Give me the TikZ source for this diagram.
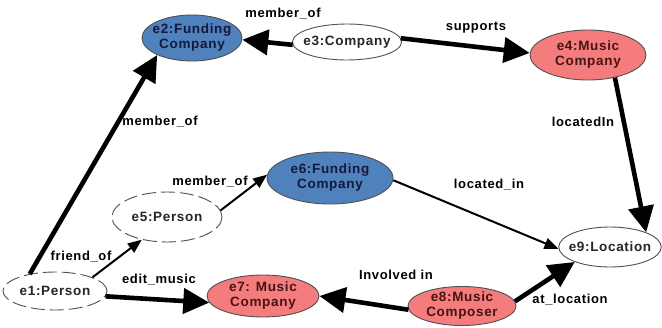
\documentclass[tikz,border=0pt]{standalone}
\usepackage{fontspec}
\setmainfont{Liberation Sans}[LetterSpace=5]
\usetikzlibrary{shapes.geometric,arrows.meta}
\definecolor{fundblue}{RGB}{79,129,189}
\definecolor{musicpink}{RGB}{244,124,124}
\definecolor{edgegray}{RGB}{80,80,80}
\tikzset{
  ent/.style={ellipse, draw=edgegray, line width=0.9pt, inner xsep=-5pt, inner ysep=0pt, align=center,
    font=\fontsize{13.5}{15}\selectfont\bfseries, text=black!85},
  fund/.style={ent, fill=fundblue, text={rgb,255:red,20;green,25;blue,60}},
  music/.style={ent, fill=musicpink, text={rgb,255:red,70;green,20;blue,20}},
  plain/.style={ent, fill=white},
  dashent/.style={ent, fill=white, dash pattern=on 14pt off 5pt},
  thickedge/.style={line width=4.6pt, -{Triangle[length=26pt,width=25pt]}},
  thinedge/.style={line width=2pt, -{Triangle[length=14pt,width=11pt]}},
  lbl/.style={font=\fontsize{13}{15}\selectfont\bfseries, inner sep=0pt}
}
\begin{document}
\begin{tikzpicture}[x=1pt,y=-1pt]
\useasboundingbox (0,0) rectangle (662,327);
% nodes
\node[fund, minimum width=100pt, minimum height=46pt] (e2) at (192,38) {e2:Funding\\Company};
\node[plain, minimum width=108pt, minimum height=36pt] (e3) at (347,42) {e3:Company};
\node[music, minimum width=116pt, minimum height=50pt] (e4) at (588,55) {e4:Music\\Company};
\node[dashent, minimum width=110pt, minimum height=50pt] (e5) at (167,217) {e5:Person};
\node[fund, minimum width=126pt, minimum height=52pt] (e6) at (330,178) {e6:Funding\\Company};
\node[music, minimum width=112pt, minimum height=42pt] (e7) at (263,296) {e7: Music\\Company};
\node[music, minimum width=108pt, minimum height=38pt] (e8) at (462,306) {e8:Music\\Composer};
\node[plain, minimum width=102pt, minimum height=40pt] (e9) at (610,247) {e9:Location};
\node[dashent, minimum width=104pt, minimum height=38pt] (e1) at (55,291) {e1:Person};
% edges
\draw[thickedge] (e1.146) -- (e2.206);
\draw[thickedge] (e3.183) -- (e2.-2);
\draw[thickedge] (e3.4) -- (e4.178);
\draw[thickedge] (e4.320) -- (e9.22);
\draw[thinedge] (e1.20) -- (e5.222);
\draw[thinedge] (e5.7) -- (e6.177);
\draw[thinedge] (e6.-2) -- (e9.182);
\draw[thickedge] (e1.354) -- (e7.187);
\draw[thickedge] (e8.184) -- (e7.0);
\draw[thickedge] (e8.5) -- (e9.203);
% labels
\node[lbl] (l1) at (283,14) {member\_of};
\node[lbl] (l2) at (476,28) {supports};
\node[lbl] (l3) at (160,122) {member\_of};
\node[lbl] (l4) at (583,122) {locatedIn};
\node[lbl] (l5) at (210,182) {member\_of};
\node[lbl] (l6) at (489,185) {located\_in};
\node[lbl] (l7) at (81,257) {friend\_of};
\node[lbl] (l8) at (159,280) {edit\_music};
\node[lbl] (l9) at (396,275) {Involved in};
\node[lbl] (l10) at (570,300) {at\_location};
\end{tikzpicture}
\end{document}
